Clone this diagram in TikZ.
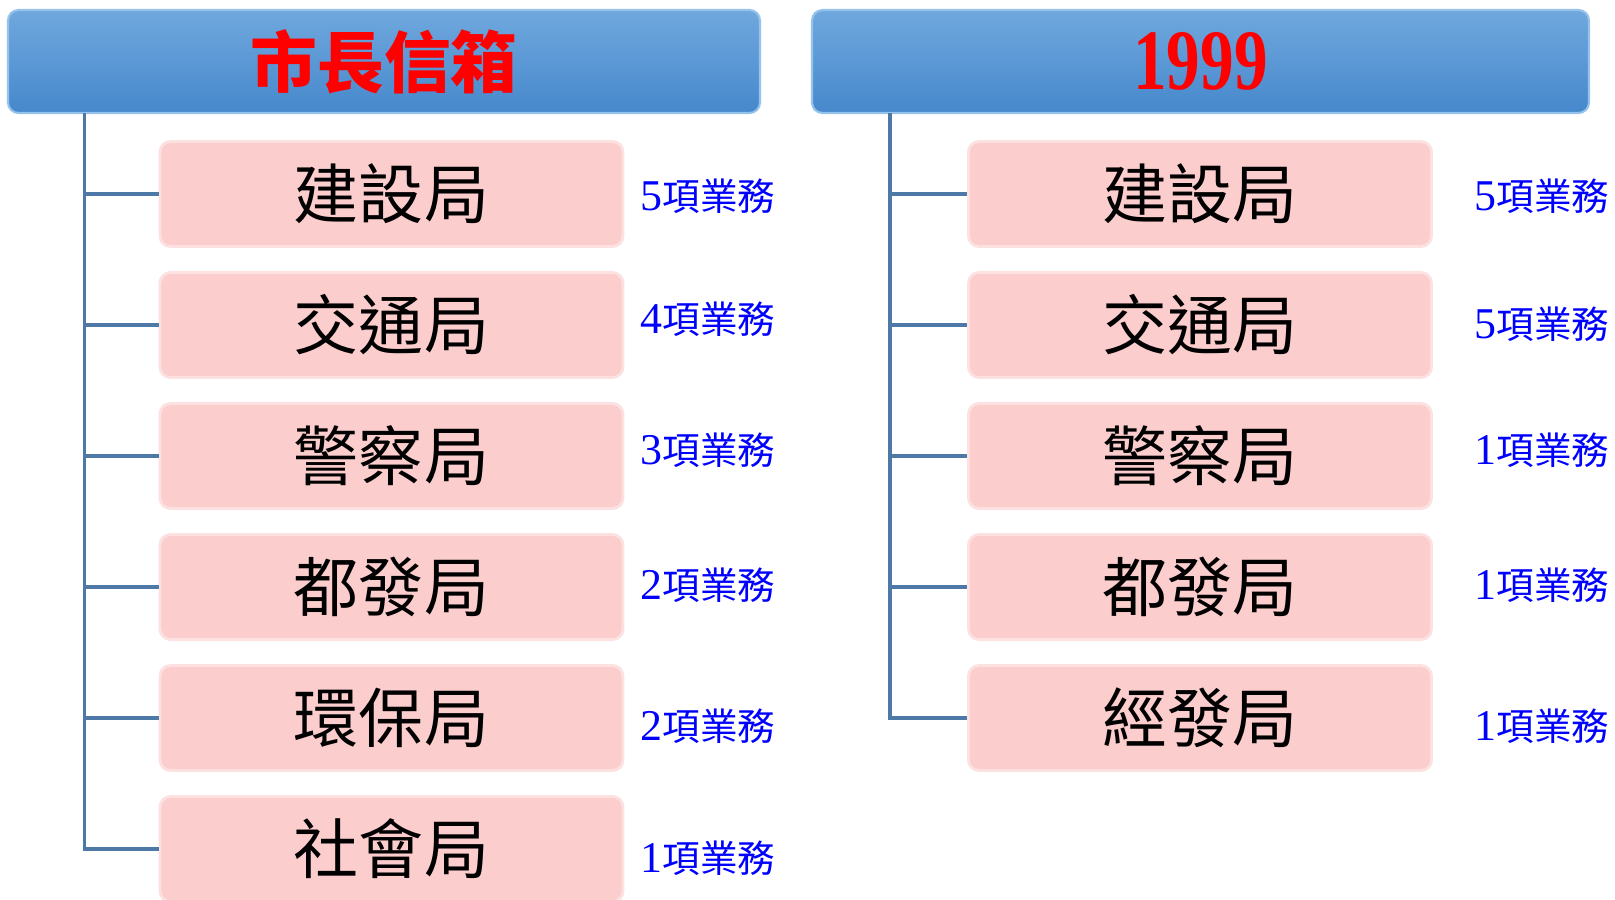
\documentclass[tikz,border=0pt]{standalone}
\usepackage{fontspec}
\setmainfont{Liberation Serif}
\newfontfamily\cjk{Noto Sans CJK TC}

\definecolor{headtop}{RGB}{112,168,222}
\definecolor{headbot}{RGB}{70,136,204}
\definecolor{headedge}{RGB}{150,195,235}
\definecolor{officepink}{RGB}{252,205,205}
\definecolor{officeedge}{RGB}{253,224,224}
\definecolor{branchblue}{RGB}{78,120,165}

% number of tasks, e.g. 5項業務
\newcommand{\biz}[1]{{\fontsize{12.5pt}{14pt}\selectfont #1}{\cjk\fontsize{10.7pt}{12pt}\selectfont 項業務}}

\tikzset{
  headbox/.style={rectangle, rounded corners=3pt, top color=headtop, bottom color=headbot,
    draw=headedge, line width=0.6pt, minimum height=10.3mm, inner sep=0pt},
  officebox/.style={rectangle, rounded corners=3pt, fill=officepink, draw=officeedge,
    line width=0.8pt, minimum width=46.3mm, minimum height=10.5mm, inner sep=0pt,
    font=\cjk\fontsize{18.5pt}{20pt}\selectfont},
  tally/.style={anchor=west, text=blue, inner sep=0pt},
  branchline/.style={draw=branchblue, line width=0.9pt},
}

\begin{document}
\begin{tikzpicture}[x=0.1mm, y=-0.1mm]
        \useasboundingbox (0,0) rectangle (1615,899);
        \fill[white] (0,0) rectangle (1615,899);

        % Mayor's mailbox
        \node[headbox, minimum width=75.2mm] (mayor-head) at (384, 61.5)
            {\cjk\bfseries\fontsize{19pt}{21pt}\selectfont\color{red}市長信箱};
        \coordinate (mayor-trunk) at (84.5, 113);

        \foreach \dept [count=\i] in {建設局, 交通局, 警察局, 都發局, 環保局, 社會局} {
            \node[officebox] (mayor-box-\i) at (391.5, {194+131*(\i-1)}) {\dept};
            \draw[branchline] (mayor-trunk) |- (mayor-box-\i.west);
        }
        \foreach \n/\y [count=\i] in {5/196, 4/319, 3/450, 2/585, 2/726, 1/858} {
            \node[tally] (mayor-tally-\i) at (640, \y) {\biz{\n}};
        }

        % 1999 hotline
        \node[headbox, minimum width=77.7mm] (hotline-head) at (1200.5, 61.5)
            {\bfseries\fontsize{24.5pt}{26pt}\selectfont\color{red}\scalebox{0.78}[1]{1999}};
        \coordinate (hotline-trunk) at (890, 113);

        \foreach \dept [count=\i] in {建設局, 交通局, 警察局, 都發局, 經發局} {
            \node[officebox] (hotline-box-\i) at (1200, {194+131*(\i-1)}) {\dept};
            \draw[branchline] (hotline-trunk) |- (hotline-box-\i.west);
        }
        \foreach \n/\y [count=\i] in {5/196, 5/324, 1/450, 1/585, 1/726} {
            \node[tally] (hotline-tally-\i) at (1474, \y) {\biz{\n}};
        }
    \end{tikzpicture}
\end{document}
